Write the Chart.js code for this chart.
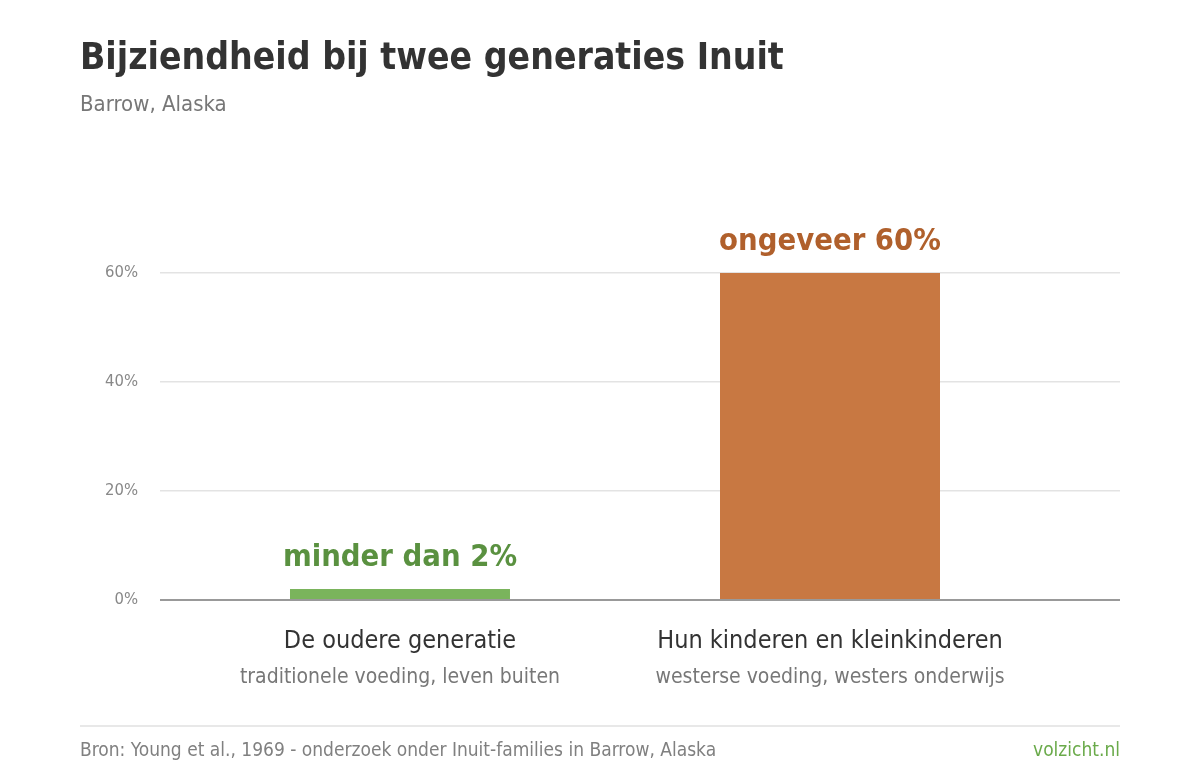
<!DOCTYPE html>
<html>
<head>
<meta charset="utf-8">
<script src="https://cdn.jsdelivr.net/npm/chart.js@4"></script>
<style>
  html,body{margin:0;padding:0;background:#fff;width:1200px;height:780px;overflow:hidden;}
  body{position:relative;font-family:"DejaVu Sans Condensed","DejaVu Sans",sans-serif;}
  #wrap{position:absolute;left:0;top:0;width:1200px;height:780px;}
  .t{position:absolute;white-space:nowrap;line-height:1;}
  #title{left:80px;top:38px;font-size:37px;font-weight:700;color:#333;}
  #sub{left:80px;top:93px;font-size:22px;color:#777;}
  #sep{position:absolute;left:80px;top:725px;width:1040px;height:2px;background:#e8e8e8;}
  #src{left:80px;top:740px;font-size:19px;color:#808080;}
  #brand{right:80px;top:740px;font-size:19px;color:#6aaa4a;}
</style>
</head>
<body>
<div id="wrap"><canvas id="c" width="1200" height="780"></canvas></div>
<div class="t" id="title">Bijziendheid bij twee generaties Inuit</div>
<div class="t" id="sub">Barrow, Alaska</div>
<div id="sep"></div>
<div class="t" id="src">Bron: Young et al., 1969 - onderzoek onder Inuit-families in Barrow, Alaska</div>
<div class="t" id="brand">volzicht.nl</div>
<script>
const categories = ["De oudere generatie", "Hun kinderen en kleinkinderen"];
const subLabels = ["traditionele voeding, leven buiten", "westerse voeding, westers onderwijs"];
const values = [2, 60];
const valueLabels = ["minder dan 2%", "ongeveer 60%"];
const barColors = ["#7ab45c", "#c87842"];
const labelColors = ["#5a9140", "#b0602c"];
const yTicks = [0, 20, 40, 60];

const FONT = '"DejaVu Sans Condensed", "DejaVu Sans", sans-serif';

const overlay = {
  id: 'overlay',
  afterDatasetsDraw(chart) {
    const ctx = chart.ctx;
    const y = chart.scales.y;
    const meta = chart.getDatasetMeta(0);
    ctx.save();
    ctx.textAlign = 'center';
    ctx.textBaseline = 'alphabetic';
    meta.data.forEach((bar, i) => {
      ctx.font = '700 30.7px ' + FONT;
      ctx.fillStyle = labelColors[i];
      ctx.fillText(valueLabels[i], bar.x, bar.y - 23.5);
      const cx = bar.x;
      ctx.font = '400 25px ' + FONT;
      ctx.fillStyle = '#333';
      ctx.fillText(categories[i], cx, y.bottom + 48);
      ctx.font = '400 21px ' + FONT;
      ctx.fillStyle = '#777';
      ctx.fillText(subLabels[i], cx, y.bottom + 83);
    });
    ctx.restore();
  }
};

new Chart(document.getElementById('c'), {
  type: 'bar',
  data: {
    datasets: [{
      data: values.map((v, i) => ({ x: i, y: v })),
      backgroundColor: barColors,
      borderWidth: 0,
      barPercentage: 0.5116,
      categoryPercentage: 1
    }]
  },
  options: {
    responsive: false,
    animation: false,
    devicePixelRatio: 1,
    layout: { padding: { left: 0, right: 80, top: 273, bottom: 180 } },
    plugins: { legend: { display: false }, tooltip: { enabled: false }, title: { display: false } },
    scales: {
      x: {
        type: 'linear',
        min: -0.5581, max: 1.6744,
        offset: false,
        afterBuildTicks(scale) { scale.ticks = [{ value: 0 }, { value: 1 }]; },
        grid: { display: false, drawTicks: false },
        border: { display: false },
        ticks: { display: false }
      },
      y: {
        min: 0, max: 60,
        afterFit(scale) { scale.width = 160; },
        afterBuildTicks(scale) { scale.ticks = yTicks.map(v => ({ value: v })); },
        grid: {
          drawTicks: false,
          color: ctx => ctx.tick && ctx.tick.value === 0 ? '#999999' : '#e3e3e3',
          lineWidth: ctx => ctx.tick && ctx.tick.value === 0 ? 2 : 1.5
        },
        border: { display: false },
        ticks: {
          padding: 22,
          color: '#888',
          font: { family: FONT, size: 16.5 },
          callback: v => v + '%'
        }
      }
    }
  },
  plugins: [overlay]
});
</script>
</body>
</html>
